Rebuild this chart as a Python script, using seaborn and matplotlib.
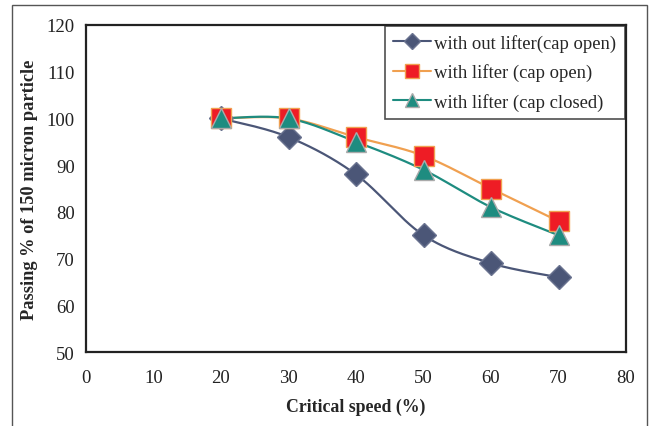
import numpy as np
import pandas as pd
import matplotlib
matplotlib.use("Agg")
import matplotlib.pyplot as plt
import seaborn as sns
from matplotlib.patches import Rectangle
from matplotlib.lines import Line2D

speed = [20, 30, 40, 50, 60, 70]
without_lifter_open = [100, 96, 88, 75, 69, 66]
with_lifter_open = [100, 100, 96, 92, 85, 78]
with_lifter_closed = [100, 100, 95, 89, 81, 75]
labels = ["with out lifter(cap open)", "with lifter (cap open)", "with lifter (cap closed)"]
x_ticks = [0, 10, 20, 30, 40, 50, 60, 70, 80]
y_ticks = [50, 60, 70, 80, 90, 100, 110, 120]

sns.set_style("white")
plt.rcParams['font.family'] = ['Liberation Serif', 'DejaVu Serif']

fig = plt.figure(figsize=(6.52, 4.27), dpi=100)
ax = fig.add_axes([86/652, 1-353/427, (626-86)/652, (353-26)/427])

# outer frame
fig.patches.append(Rectangle((12/652, -0.05), (647-12)/652, 1.05 - 6/427, transform=fig.transFigure,
                             fill=False, edgecolor='#555555', linewidth=1.0))


def smooth(xs, ys, n=30, tension=0.5):
    # Catmull-Rom style smoothing (Excel-like smoothed line) through the data points
    xs = np.asarray(xs, float); ys = np.asarray(ys, float)
    px = np.concatenate([[xs[0]], xs, [xs[-1]]])
    py = np.concatenate([[ys[0]], ys, [ys[-1]]])
    outx, outy = [], []
    for i in range(1, len(px) - 2):
        p0, p1, p2, p3 = (np.array([px[j], py[j]]) for j in (i-1, i, i+1, i+2))
        m1 = tension * (p2 - p0)
        m2 = tension * (p3 - p1)
        t = np.linspace(0, 1, n)[:, None]
        h00 = 2*t**3 - 3*t**2 + 1; h10 = t**3 - 2*t**2 + t
        h01 = -2*t**3 + 3*t**2; h11 = t**3 - t**2
        pts = h00*p1 + h10*m1 + h01*p2 + h11*m2
        outx.extend(pts[:, 0]); outy.extend(pts[:, 1])
    return np.array(outx), np.array(outy)

series = [
    (without_lifter_open, '#4B5677', '#4B5677', '#6a7390', 'D', 12, 8),
    (with_lifter_open, '#F0A050', '#EE1C25', '#F0A050', 's', 14, 9.5),
    (with_lifter_closed, '#1E8C80', '#1E8C80', '#aaaaaa', '^', 14, 10),
]
handles = []
for (vals, lc, fc, ec, mk, ms, lms), lab in zip(series, labels):
    sx, sy = smooth(speed, vals)
    df_line = pd.DataFrame({'x': sx, 'y': sy})
    sns.lineplot(data=df_line, x='x', y='y', ax=ax, color=lc, linewidth=1.6, sort=False,
                 estimator=None, legend=False)
    df = pd.DataFrame({'x': speed, 'y': vals})
    ax.plot(df['x'], df['y'], linestyle='none', marker=mk, markersize=ms,
            markerfacecolor=fc, markeredgecolor=ec, markeredgewidth=1.0, zorder=5)
    handles.append(Line2D([0], [0], color=lc, linewidth=1.5, marker=mk, markersize=lms,
                          markerfacecolor=fc, markeredgecolor=ec))

ax.set_xlim(0, 80)
ax.set_ylim(50, 120)
ax.set_xticks(x_ticks)
ax.set_yticks(y_ticks)
ax.tick_params(axis='both', labelsize=13.5, colors='#222222', width=1.0)
ax.tick_params(axis='y', direction='out', length=5, pad=3)
ax.tick_params(axis='x', direction='inout', length=6, pad=9)
for s in ax.spines.values():
    s.set_visible(True)
    s.set_color('#222222')
    s.set_linewidth(1.6)
ax.set_xlabel('Critical speed (%)', fontsize=12.8, fontweight='bold', labelpad=9)
ax.set_ylabel('Passing % of 150 micron particle', fontsize=13.2, fontweight='bold', labelpad=6)

leg = ax.legend(handles, labels, loc='upper right', bbox_to_anchor=(0.998, 0.998), fontsize=13.4,
                frameon=True, fancybox=False, edgecolor='#222222', handlelength=2.0,
                handletextpad=0.2, borderpad=0.45, labelspacing=0.62, borderaxespad=0)
leg.get_frame().set_linewidth(1.2)

fig.savefig('out.png', dpi=100)
